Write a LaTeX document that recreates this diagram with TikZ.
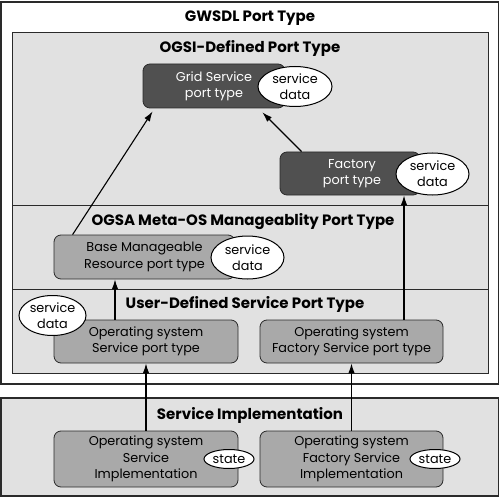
\documentclass[tikz,border=0pt]{standalone}
\usepackage{fontspec}
\setmainfont{Poppins}
\usetikzlibrary{arrows.meta,shapes.geometric}
\definecolor{lightbg}{HTML}{E1E1E1}
\definecolor{darknode}{HTML}{505050}
\definecolor{midnode}{HTML}{A9A9A9}
\definecolor{edgecol}{HTML}{2A2A2A}
\newcommand\bodyfont{\fontsize{12.8}{16.3}\selectfont}
\newcommand\headfont{\fontsize{15}{17}\selectfont\bfseries}
\tikzset{
  darkbox/.style={rounded corners=7pt, fill=darknode, draw=edgecol, line width=0.8pt, text=white, align=center, font=\bodyfont, inner sep=0pt},
  midbox/.style={rounded corners=7pt, fill=midnode, draw=edgecol, line width=0.8pt, text=black, align=center, font=\bodyfont, inner sep=0pt},
  blob/.style={ellipse, fill=white, draw=black, line width=1pt, align=center, inner sep=0pt, font=\bodyfont},
  heading/.style={font=\headfont, inner sep=0pt},
  link/.style={-{Latex[length=10pt,width=6.5pt]}, line width=1.1pt},
  panel/.style={fill=lightbg, draw=edgecol, line width=0.8pt},
}
\begin{document}
\begin{tikzpicture}[x=1pt,y=-1pt]
\useasboundingbox (0,0) rectangle (500,497);
% outer frames
\draw[fill=white, draw=edgecol, line width=1.2pt] (1,2) rectangle (498.5,384);
\draw[panel] (12,32) rectangle (488,373);
\draw[edgecol, line width=0.8pt] (12,205) -- (488,205);
\draw[edgecol, line width=0.8pt] (12,289) -- (488,289);
\draw[panel, line width=1.2pt] (1,398) rectangle (498.5,496);

% headings
\node[heading] (h0) at (250,18) {GWSDL Port Type};
\node[heading] (h1) at (250,48) {OGSI-Defined Port Type};
\node[heading] (h2) at (243,222) {OGSA Meta-OS Manageablity Port Type};
\node[heading] (h3) at (245,304) {User-Defined Service Port Type};
\node[heading] (h4) at (250,415) {Service Implementation};

% OGSI nodes
\node[darkbox, minimum width=142pt, minimum height=44pt] (grid) at (214,86) {Grid Service\\port type};
\node[blob, minimum width=74pt, minimum height=40pt] (gridsd) at (295,86.5) {service\\data};
\node[darkbox, minimum width=140pt, minimum height=43pt] (fact) at (350,173.5) {\hspace*{4pt}Factory\\\hspace*{4pt}port type};
\node[blob, minimum width=73pt, minimum height=42pt] (factsd) at (432.5,174) {service\\data};

% OGSA node
\node[midbox, minimum width=181pt, minimum height=44pt] (base) at (144.5,257) {Base Manageable\\Resource port type};
\node[blob, minimum width=73pt, minimum height=43pt] (basesd) at (247.5,257.5) {service\\data};

% user-defined nodes
\node[midbox, minimum width=184pt, minimum height=43pt] (ossvc) at (146,341.5) {Operating system\\Service port type};
\node[midbox, minimum width=183pt, minimum height=43pt] (osfac) at (351.5,341.5) {Operating system\\Factory Service port type};
\node[blob, minimum width=67pt, minimum height=40pt] (ossd) at (52.5,315.5) {service\\data};

% implementation nodes
\node[midbox, minimum width=184pt, minimum height=56pt] (osimpl) at (146,459) {Operating system\\Service\\Implementation};
\node[blob, minimum width=50pt, minimum height=19pt] (implst) at (229,459) {state};
\node[midbox, minimum width=183pt, minimum height=56pt] (facimpl) at (351.5,459) {Operating system\\Factory Service\\Implementation};
\node[blob, minimum width=50pt, minimum height=19pt] (facst) at (435,459) {state};

% connectors
\draw[link] ([xshift=19pt]base.north west) -- ([xshift=10pt,yshift=-3pt]grid.south west);
\draw[link] ([xshift=22pt]fact.north west) -- ([xshift=-23pt,yshift=-4pt]grid.south east);
\coordinate (a1) at ([xshift=-31pt]ossvc.north);
\draw[link] (a1) -- (a1 |- base.south);
\coordinate (a2) at ([xshift=52.5pt]osfac.north);
\draw[link] (a2) -- (a2 |- fact.south);
\draw[link] (osimpl.north) -- (ossvc.south);
\draw[link] (facimpl.north) -- (osfac.south);
\end{tikzpicture}
\end{document}
